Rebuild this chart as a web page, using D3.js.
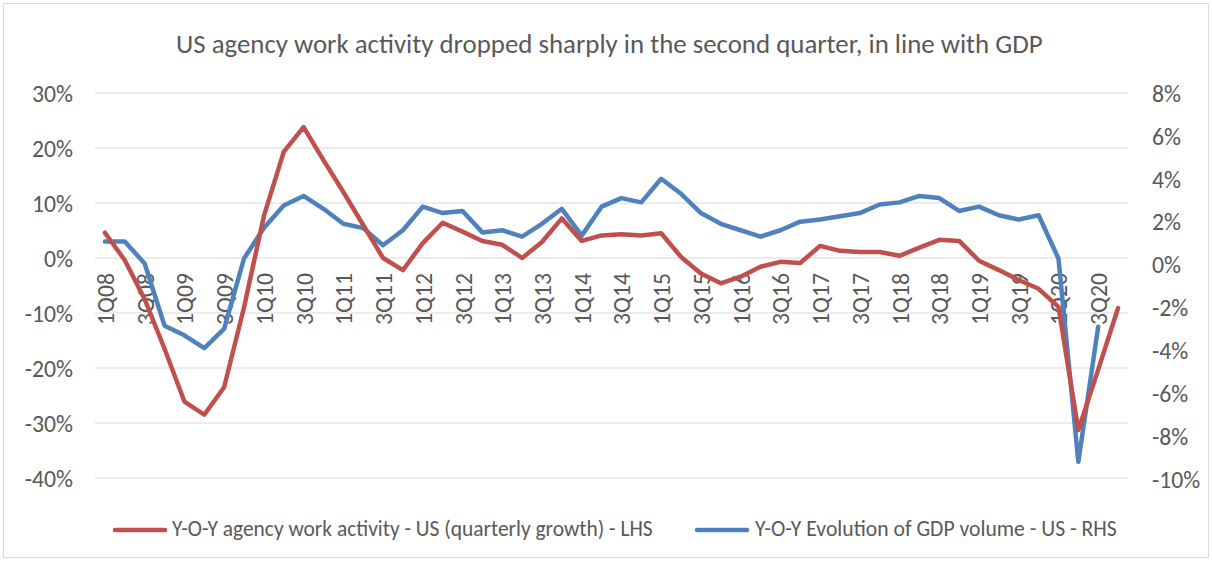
<!DOCTYPE html>
<html>
<head>
<meta charset="utf-8">
<script src="https://cdn.jsdelivr.net/npm/d3@7"></script>
<style>
  body { margin: 0; background: #fff; }
  text { font-family: Carlito, "Liberation Sans Narrow", "Open Sans", sans-serif; fill: #595959; }
</style>
</head>
<body>
<div id="container"></div>
<script>
// quarters 1Q08 .. 4Q20
const quarters = []
for (let y = 8; y <= 20; y++) {
  for (let q = 1; q <= 4; q++) quarters.push(q + 'Q' + String(y).padStart(2, '0'))
}

// agency work activity, y-o-y % (LHS)
const agencyWork = [
  4.6, -0.4, -7.5, -16.5, -26.1, -28.5, -23.5, -9.0,
  7.6, 19.3, 23.8, 17.8, 12.0, 6.0, 0.0, -2.2,
  2.7, 6.4, 4.8, 3.1, 2.4, 0.0, 2.9, 7.2,
  3.1, 4.1, 4.3, 4.1, 4.5, 0.2, -2.8, -4.6,
  -3.4, -1.6, -0.7, -0.9, 2.2, 1.3, 1.1, 1.1,
  0.4, 1.9, 3.3, 3.1, -0.5, -2.2, -4.0, -5.6,
  -8.9, -31.3, -20.3, -9.1
]

// GDP volume, y-o-y % (RHS)
const gdpVolume = [
  1.07, 1.07, 0.05, -2.85, -3.3, -3.9, -3.0, 0.28,
  1.7, 2.75, 3.2, 2.6, 1.9, 1.7, 0.9, 1.6,
  2.7, 2.4, 2.5, 1.5, 1.6, 1.3, 1.9, 2.6,
  1.35, 2.7, 3.1, 2.9, 4.0, 3.3, 2.4, 1.9,
  1.6, 1.3, 1.6, 2.0, 2.1, 2.25, 2.4, 2.8,
  2.9, 3.2, 3.1, 2.5, 2.7, 2.3, 2.1, 2.3,
  0.28, -9.2, -2.9, null
]

const leftTicks = [-40, -30, -20, -10, 0, 10, 20, 30]
const rightTicks = [-10, -8, -6, -4, -2, 0, 2, 4, 6, 8]

const title = 'US agency work activity dropped sharply in the second quarter, in line with GDP'
const seriesNames = [
  'Y-O-Y agency work activity - US (quarterly growth) - LHS',
  'Y-O-Y Evolution of GDP volume - US - RHS'
]
const colors = ['#C0504D', '#4F81BD']

const width = 1212
const height = 561
const plot = { left: 95, right: 1128, top: 93, bottom: 478 }

const svg = d3.select('#container').append('svg')
  .attr('width', width)
  .attr('height', height)

// font size at which `str` is `target` px wide
function sizeFor(str, target) {
  const t = svg.append('text').style('font-size', '20px').text(str)
  const w = t.node().getComputedTextLength()
  t.remove()
  return 20 * target / w
}

// fit a text element's font size so it spans the given width
function fitWidth(sel, target) {
  sel.each(function () {
    const w = this.getComputedTextLength()
    const fs = parseFloat(this.style.fontSize)
    this.style.fontSize = (fs * target / w) + 'px'
  })
}

const tickSize = sizeFor('30%', 41)
const catSize = sizeFor('1Q08', 52)

// chart border
svg.append('rect')
  .attr('x', 3.5).attr('y', 3.5)
  .attr('width', width - 7).attr('height', height - 7)
  .attr('fill', 'none')
  .attr('stroke', '#d9d9d9')

const xScale = d3.scalePoint()
  .domain(quarters)
  .range([plot.left, plot.right])
  .padding(0.5)

const yLeft = d3.scaleLinear().domain([-40, 30]).range([plot.bottom, plot.top])
const yRight = d3.scaleLinear().domain([-10, 8]).range([plot.bottom + 1, plot.top])

// gridlines
svg.append('g')
  .selectAll('line')
  .data(leftTicks)
  .enter()
  .append('line')
  .attr('x1', plot.left).attr('x2', plot.right)
  .attr('y1', d => yLeft(d)).attr('y2', d => yLeft(d))
  .attr('stroke', '#d9d9d9')
  .attr('stroke-width', 1)

// left axis
const leftAxis = svg.append('g')
  .attr('transform', `translate(${plot.left}, 0)`)
  .call(d3.axisLeft(yLeft).tickValues(leftTicks).tickFormat(d => d + '%').tickSize(0).tickPadding(22))
leftAxis.select('.domain').remove()
leftAxis.selectAll('text').style('font-size', tickSize + 'px').attr('dy', '0.35em')

// right axis
const rightAxis = svg.append('g')
  .attr('transform', `translate(${plot.right}, 0)`)
  .call(d3.axisRight(yRight).tickValues(rightTicks).tickFormat(d => d + '%').tickSize(0).tickPadding(24))
rightAxis.select('.domain').remove()
rightAxis.selectAll('text').style('font-size', tickSize + 'px').attr('dy', '0.35em')

// lines
const lineLeft = d3.line()
  .defined(d => d != null)
  .x((d, i) => xScale(quarters[i]))
  .y(d => yLeft(d))
const lineRight = d3.line()
  .defined(d => d != null)
  .x((d, i) => xScale(quarters[i]))
  .y(d => yRight(d))

// category labels, every second quarter, rotated, sitting on the 0% line
svg.append('g')
  .selectAll('text')
  .data(quarters.filter((q, i) => i % 2 === 0))
  .enter()
  .append('text')
  .attr('transform', d => `translate(${xScale(d) + 9}, ${yLeft(0) + 15}) rotate(-90)`)
  .attr('text-anchor', 'end')
  .style('font-size', catSize + 'px')
  .text(d => d)

svg.append('path')
  .datum(gdpVolume)
  .attr('d', lineRight)
  .attr('fill', 'none')
  .attr('stroke', colors[1])
  .attr('stroke-width', 4.5)
  .attr('stroke-linejoin', 'round')
  .attr('stroke-linecap', 'round')

svg.append('path')
  .datum(agencyWork)
  .attr('d', lineLeft)
  .attr('fill', 'none')
  .attr('stroke', colors[0])
  .attr('stroke-width', 4.5)
  .attr('stroke-linejoin', 'round')
  .attr('stroke-linecap', 'round')

// title
svg.append('text')
  .attr('x', 176).attr('y', 53)
  .style('font-size', '22px')
  .text(title)
  .call(fitWidth, 867)

// legend
const legend = [
  { name: seriesNames[0], color: colors[0], x: 115, textX: 172, textLen: 481 },
  { name: seriesNames[1], color: colors[1], x: 697, textX: 755, textLen: 362 }
]
const lg = svg.append('g').selectAll('g').data(legend).enter().append('g')
lg.append('line')
  .attr('x1', d => d.x).attr('x2', d => d.x + 50)
  .attr('y1', 530).attr('y2', 530)
  .attr('stroke', d => d.color)
  .attr('stroke-width', 4.5)
  .attr('stroke-linecap', 'round')
lg.append('text')
  .attr('x', d => d.textX).attr('y', 536)
  .style('font-size', '17px')
  .text(d => d.name)
  .each(function (d) { d3.select(this).call(fitWidth, d.textLen) })
</script>
</body>
</html>
